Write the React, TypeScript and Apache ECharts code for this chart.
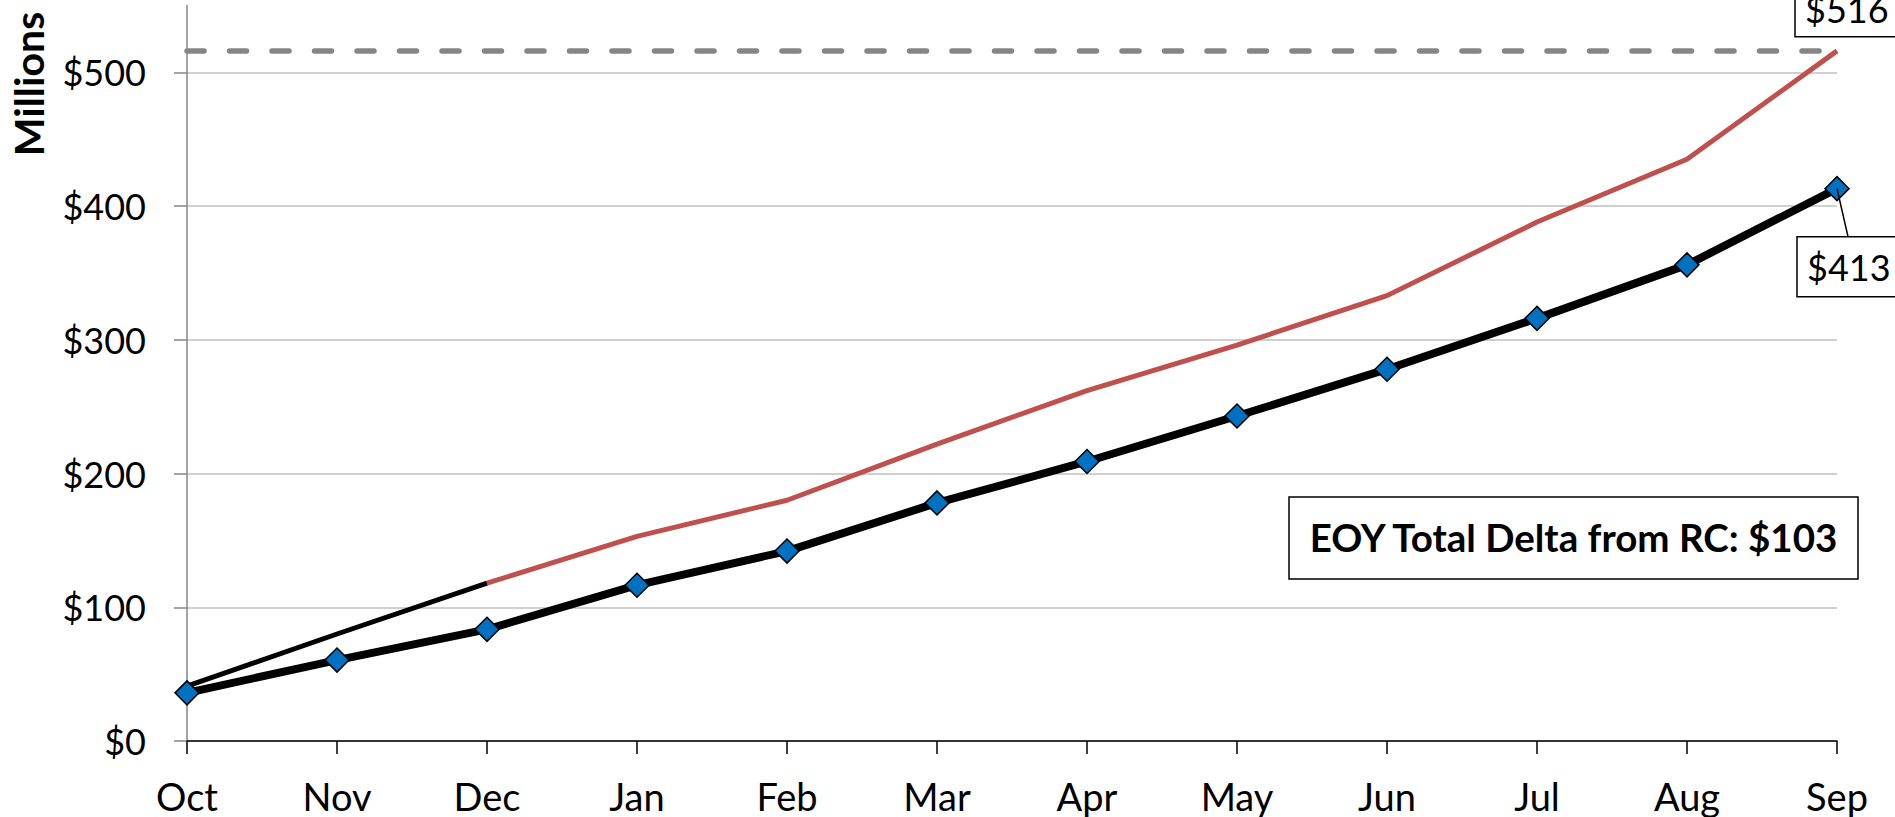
import React, { useEffect, useRef } from "react";
import * as echarts from "echarts";

// Fiscal-year months, October through September
const months = ["Oct", "Nov", "Dec", "Jan", "Feb", "Mar", "Apr", "May", "Jun", "Jul", "Aug", "Sep"];
// Cumulative actuals/forecast ($ millions)
const actualCumulative = [36, 60.5, 83.5, 116.5, 142, 178, 209, 243, 278, 316, 356, 413];
// Cumulative RC plan ($ millions); black through Dec, red afterwards
const rcCumulative = [41, 80, 118, 153, 180, 222, 262, 296, 333, 388, 435, 516];
const rcBlackThroughIndex = 2;
// Y-axis tick values
const yTicks = [0, 100, 200, 300, 400, 500];
const yMax = 550;

const FONT = "Lato, 'Noto Sans', sans-serif";
const LABEL_SIZE = 36;

export default function App() {
  const ref = useRef<HTMLDivElement>(null);

  useEffect(() => {
    if (!ref.current) return;
    const chart = echarts.init(ref.current, undefined, { renderer: "svg" });

    const rcEarly = rcCumulative.map((v, i) => (i <= rcBlackThroughIndex ? v : null));
    const rcLate = rcCumulative.map((v, i) => (i >= rcBlackThroughIndex ? v : null));
    const lastIdx = months.length - 1;
    const rcEnd = rcCumulative[lastIdx];
    const actualEnd = actualCumulative[lastIdx];

    chart.setOption({
      animation: false,
      backgroundColor: "#ffffff",
      grid: { left: 187, right: 58, top: 5.4, bottom: 76, containLabel: false },
      xAxis: {
        type: "category",
        data: months,
        boundaryGap: false,
        axisLine: { show: true, lineStyle: { color: "#000000", width: 1.5 } },
        axisTick: { show: true, inside: false, length: 13, alignWithLabel: true, lineStyle: { color: "#000000", width: 1.5 } },
        axisLabel: { color: "#000000", fontSize: 38, lineHeight: 38, fontFamily: FONT, margin: 36, interval: 0 },
        splitLine: { show: false },
      },
      yAxis: {
        type: "value",
        min: 0,
        max: yMax,
        interval: 100,
        axisLine: { show: true, lineStyle: { color: "#868686", width: 1.5 } },
        axisTick: { show: true, inside: false, length: 13, customValues: yTicks, lineStyle: { color: "#868686", width: 1.5 } },
        axisLabel: {
          customValues: yTicks,
          color: "#000000",
          fontSize: LABEL_SIZE,
          fontFamily: FONT,
          margin: 41,
          formatter: (v: number) => "$" + v,
        },
        splitLine: { show: true, lineStyle: { color: "#c0c0c0", width: 1.5 } },
      },
      series: [
        {
          name: "RC",
          type: "line",
          data: rcLate,
          symbol: "none",
          lineStyle: { color: "#c0504d", width: 5 },
          connectNulls: false,
          z: 2,
          markLine: {
            silent: true,
            symbol: "none",
            label: { show: false },
            lineStyle: { color: "#868686", width: 5.5, type: [17, 25.5], cap: "round" },
            data: [{ yAxis: rcEnd }],
          },
        },
        {
          name: "RC (prior)",
          type: "line",
          data: rcEarly,
          symbol: "none",
          lineStyle: { color: "#000000", width: 5 },
          z: 3,
        },
        {
          name: "Actual",
          type: "line",
          data: actualCumulative,
          symbol: "diamond",
          symbolSize: 24,
          lineStyle: { color: "#000000", width: 8 },
          itemStyle: { color: "#0070c0", borderColor: "#000000", borderWidth: 1.5 },
          z: 4,
        },
      ],
    });

    const pRc = chart.convertToPixel({ gridIndex: 0 }, [lastIdx, rcEnd]) as number[];
    const pAct = chart.convertToPixel({ gridIndex: 0 }, [lastIdx, actualEnd]) as number[];
    const delta = Math.round(rcEnd - actualEnd);

    const textStyle = (text: string, extra: any = {}) => ({
      text,
      fill: "#000000",
      fontSize: LABEL_SIZE,
      fontFamily: FONT,
      ...extra,
    });

    chart.setOption({
      graphic: [
        {
          type: "text",
          x: 28,
          y: 84,
          rotation: Math.PI / 2,
          style: textStyle("Millions", { fontWeight: "bold", fontSize: 41, align: "center", verticalAlign: "middle" }),
        },
        // RC end-of-year label
        {
          type: "rect",
          z: 100,
          shape: { x: pRc[0] - 42, y: pRc[1] - 80, width: 130, height: 66 },
          style: { fill: "#ffffff", stroke: "#000000", lineWidth: 1.5 },
        },
        {
          type: "text",
          z: 101,
          x: pRc[0] - 32,
          y: pRc[1] - 42,
          style: textStyle("$" + rcEnd, { align: "left", verticalAlign: "middle" }),
        },
        // Actual end-of-year label with leader line
        {
          type: "line",
          z: 100,
          shape: { x1: pAct[0], y1: pAct[1], x2: pAct[0] + 11, y2: pAct[1] + 48 },
          style: { stroke: "#000000", lineWidth: 1.5 },
        },
        {
          type: "rect",
          z: 100,
          shape: { x: pAct[0] - 40, y: pAct[1] + 48, width: 130, height: 60 },
          style: { fill: "#ffffff", stroke: "#000000", lineWidth: 1.5 },
        },
        {
          type: "text",
          z: 101,
          x: pAct[0] - 30,
          y: pAct[1] + 78,
          style: textStyle("$" + actualEnd, { align: "left", verticalAlign: "middle" }),
        },
        // Delta summary box
        {
          type: "rect",
          z: 100,
          shape: { x: 1289, y: 497, width: 569, height: 82 },
          style: { fill: "#ffffff", stroke: "#000000", lineWidth: 1.5 },
        },
        {
          type: "text",
          z: 101,
          x: 1573.5,
          y: 537,
          style: textStyle("EOY Total Delta from RC: $" + delta, {
            fontWeight: "bold",
            fontSize: 38.5,
            align: "center",
            verticalAlign: "middle",
          }),
        },
      ],
    });

    return () => chart.dispose();
  }, []);

  return (
    <div
      ref={ref}
      style={{ position: "fixed", left: 0, top: 0, width: 1895, height: 817, background: "#ffffff" }}
    />
  );
}
